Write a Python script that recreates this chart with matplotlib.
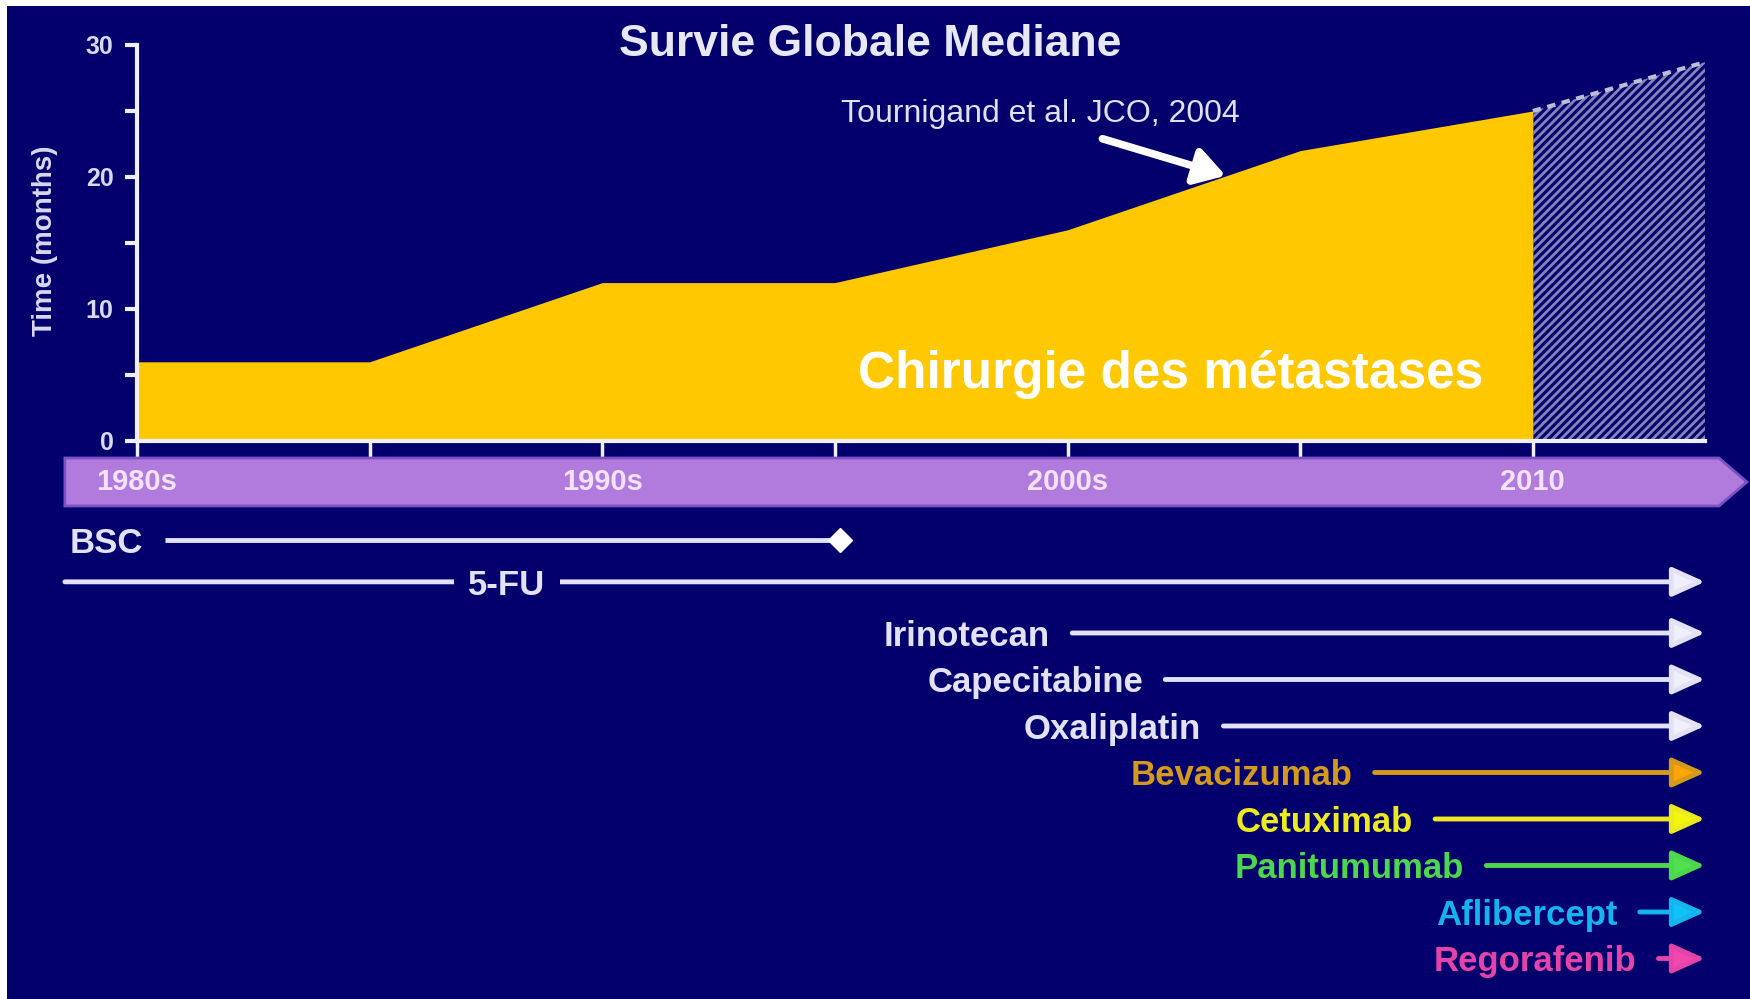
import matplotlib.pyplot as plt
from matplotlib.patches import Polygon, Rectangle

plt.rcParams['font.family'] = ['Liberation Sans', 'DejaVu Sans']
plt.rcParams['hatch.linewidth'] = 2.0

# --- data ---
years = [1980, 1985, 1990, 1995, 2000, 2005, 2010]
survival = [6, 6, 12, 12, 16, 22, 25]          # median overall survival (months)
proj_years = [2010, 2013.7]
proj_survival = [25, 28.7]

decade_pos = [1980, 1990, 2000, 2010]
decade_labels = ['1980s', '1990s', '2000s', '2010']

drugs = ['BSC', '5-FU', 'Irinotecan', 'Capecitabine', 'Oxaliplatin',
         'Bevacizumab', 'Cetuximab', 'Panitumumab', 'Aflibercept', 'Regorafenib']
drug_start = [1980.6, 1978.45, 2000.1, 2002.1, 2003.35,
              2006.6, 2007.9, 2009.0, 2012.3, 2012.7]
drug_end = [1995.1] + [2013.7] * 9
drug_rows = [0, 0.9, 2, 3, 4, 5, 6, 7, 8, 9]
drug_colors = ['#E2E2F4'] * 5 + ['#D49A1C', '#EAEA1E', '#4CD84C', '#14B4EE', '#E444A8']
head_colors = ['#F0F0FA'] * 5 + ['#FFA500', '#F4F410', '#50E050', '#10C0F8', '#F048B0']
fu_label_x = 1987.95

band_start, band_end, band_tip = 1978.45, 2014.0, 2014.6

NAVY = '#03006E'
W, H = 1750, 999

fig = plt.figure(figsize=(17.5, 9.99), dpi=100)
fig.patch.set_facecolor('white')
fig.patches.append(Rectangle((7 / W, 0), 1, 1 - 6 / H, transform=fig.transFigure,
                             facecolor=NAVY, edgecolor='none', zorder=-10))

# --- survival area chart ---
x0, x1 = 137, 1705
ax = fig.add_axes([x0 / W, 1 - 441 / H, (x1 - x0) / W, (441 - 45) / H])
ax.set_facecolor('none')
ax.set_xlim(1980, 2013.7)
ax.set_ylim(0, 30)

ax.fill_between(years, 0, survival, color='#FFC800', lw=0, zorder=2)
ax.fill_between(proj_years, 0, proj_survival, facecolor='none',
                edgecolor='#8484B8', hatch='////', lw=0, zorder=2)
ax.plot(proj_years, proj_survival, ls=(0, (2, 1.6)), color='#BDBDD4', lw=3, zorder=3)

for side in ['top', 'right']:
    ax.spines[side].set_visible(False)
for side in ['left', 'bottom']:
    ax.spines[side].set_color('#F0F0FA')
    ax.spines[side].set_linewidth(3)
    ax.spines[side].set_zorder(4)

ax.set_yticks([0, 10, 20, 30])
ax.set_yticks([5, 15, 25], minor=True)
ax.set_xticks(range(1980, 2011, 5))
ax.set_xticklabels([])
ax.tick_params(axis='y', which='both', colors='#F0F0FA', length=9, width=3,
               labelcolor='#D8D8EE', labelsize=18, pad=8)
ax.tick_params(axis='x', colors='#F0F0FA', length=12, width=2.5)
for lab in ax.get_yticklabels():
    lab.set_fontweight('bold')

fig.text(870 / W, 1 - 45 / H, 'Survie Globale Mediane', ha='center', va='center',
         fontsize=32, fontweight='bold', color='#E8E8F4')
fig.text(45 / W, 1 - 241 / H, 'Time (months)', rotation=90, ha='center', va='center',
         fontsize=20, fontweight='bold', color='#D8D8EE')

ax.text(1999.42, 24.77, 'Tournigand et al. JCO, 2004', ha='center', va='center',
        fontsize=23, color='#E0E0F0')
ax.annotate('', xy=(2003.4, 20.1), xytext=(2000.75, 22.9),
            arrowprops=dict(arrowstyle='-|>,head_length=0.9,head_width=0.55',
                            mutation_scale=20, lw=5.5, color='white',
                            shrinkA=0, shrinkB=0), zorder=5)
ax.text(2002.22, 4.0, 'Chirurgie des métastases', ha='center', va='baseline',
        fontsize=37, fontweight='bold', color='white', zorder=5)

# --- timeline of treatments ---
tl = fig.add_axes([x0 / W, 0, (x1 - x0) / W, 1 - 450 / H])
tl.set_xlim(1980, 2013.7)
tl.set_ylim(9.871, -1.935)
tl.axis('off')

band_top, band_bot = -1.763, -0.731
band = Polygon([(band_start, band_top), (band_end, band_top),
                (band_tip, (band_top + band_bot) / 2), (band_end, band_bot),
                (band_start, band_bot)], closed=True, facecolor='#B07BDD',
               edgecolor='#7A52C4', lw=2, clip_on=False)
tl.add_patch(band)
for pos, lab in zip(decade_pos, decade_labels):
    tl.text(pos, (band_top + band_bot) / 2, lab, ha='center', va='center',
            fontsize=21, fontweight='bold', color='#F2E2FC', clip_on=False)

for name, start, end, row, col, hcol in zip(drugs, drug_start, drug_end, drug_rows,
                                             drug_colors, head_colors):
    if name == 'BSC':
        tl.plot([start, end], [row, row], color=col, lw=3.5, solid_capstyle='butt',
                clip_on=False)
        tl.plot(end, row, marker='D', ms=12, color='white', clip_on=False)
    else:
        tl.annotate('', xy=(end, row), xytext=(start, row),
                    arrowprops=dict(arrowstyle='-|>,head_length=1.0,head_width=0.45',
                                    mutation_scale=20, lw=3.5, edgecolor=col,
                                    facecolor=hcol, shrinkA=0, shrinkB=0),
                    annotation_clip=False)
    if name == '5-FU':
        tl.text(fu_label_x, row, name, ha='center', va='center_baseline',
                fontsize=25, fontweight='bold', color=col, zorder=5,
                bbox=dict(boxstyle='square,pad=0.42', facecolor=NAVY, edgecolor='none'))
    else:
        tl.annotate(name, xy=(start, row), xytext=(-16, 0), textcoords='offset points',
                    ha='right', va='center_baseline', fontsize=25, fontweight='bold',
                    color=col, annotation_clip=False)

fig.savefig('out.png', dpi=100)
